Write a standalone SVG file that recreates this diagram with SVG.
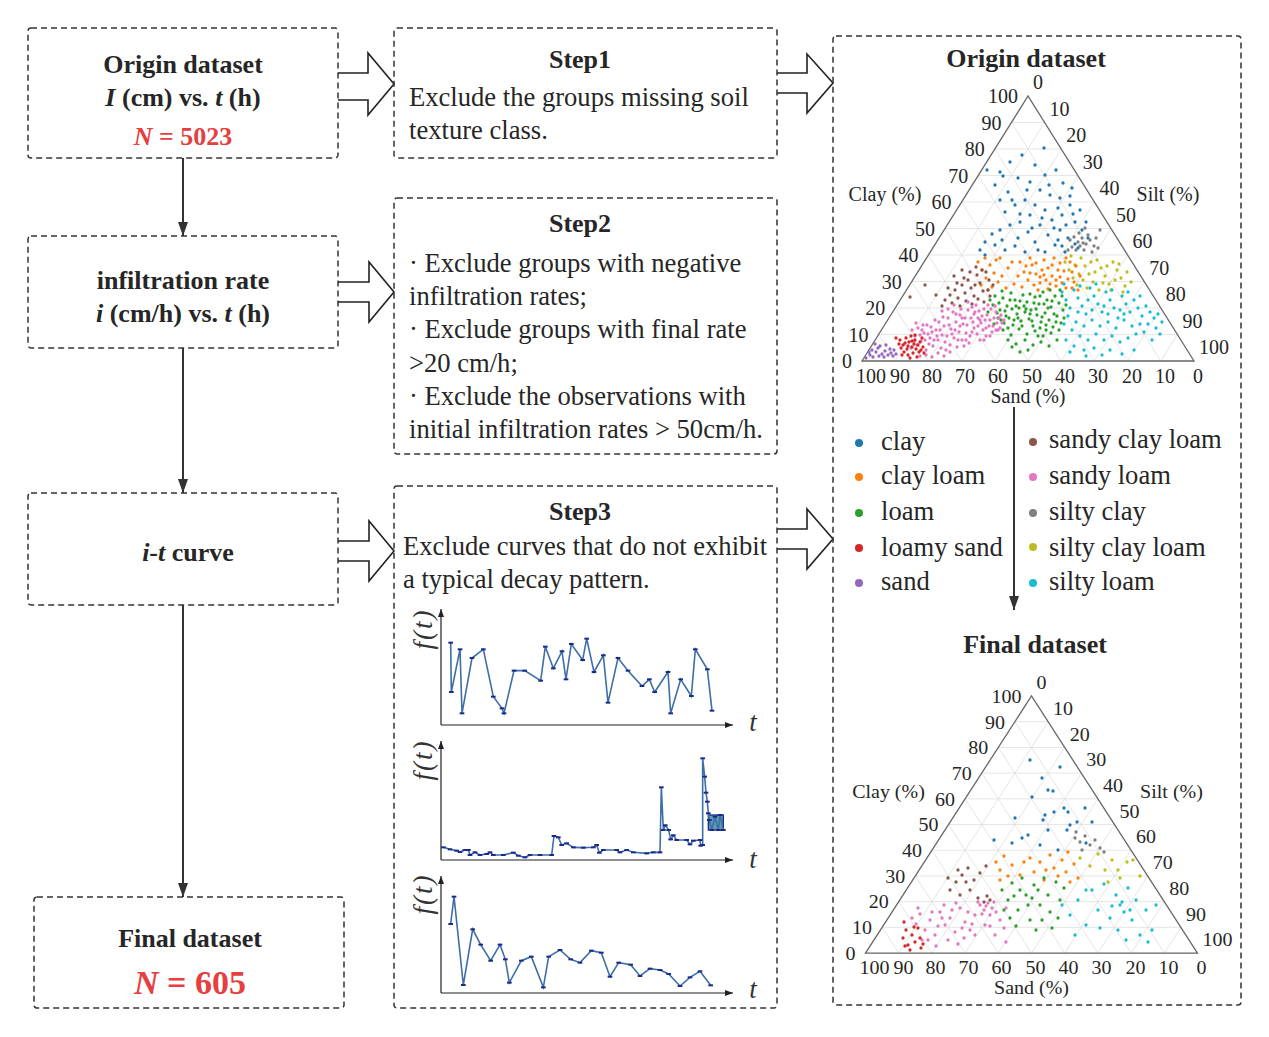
<svg xmlns="http://www.w3.org/2000/svg" width="1269" height="1037" viewBox="0 0 1269 1037">
<defs>
<style>
.box{fill:none;stroke:#333;stroke-width:1.5;stroke-dasharray:6 4}
.bt{font-family:"Liberation Serif",serif;font-weight:bold;font-size:26px;fill:#262626;text-anchor:middle}
.tx{font-family:"Liberation Serif",serif;font-size:26.6px;fill:#262626}
.it{font-style:italic}
.red{fill:#e5403f}
.blk{fill:#fff;stroke:#222;stroke-width:1.6;stroke-linejoin:miter}
.conn{stroke:#333;stroke-width:2;fill:none}
.ax{font-family:"Liberation Serif",serif;font-size:20px;fill:#262626}
.axe{font-family:"Liberation Serif",serif;font-size:20px;fill:#262626;text-anchor:end}
.axm{font-family:"Liberation Serif",serif;font-size:20px;fill:#262626;text-anchor:middle}
.grid{stroke:#dedede;stroke-width:0.8;fill:none}
.edge{stroke:#666;stroke-width:1.3;fill:none}
.d{fill:none;stroke-width:3.3;stroke-linecap:round}
.c1{stroke:#1f77b4}.c2{stroke:#ff7f0e}.c3{stroke:#2ca02c}.c4{stroke:#d62728}.c5{stroke:#9467bd}
.c6{stroke:#8c564b}.c7{stroke:#e377c2}.c8{stroke:#7f7f7f}.c9{stroke:#bcbd22}.c10{stroke:#17becf}
.cax{stroke:#222;stroke-width:1.2;fill:none}
.cl{fill:none;stroke:#3d6fa6;stroke-width:1.6;marker-start:url(#sq);marker-mid:url(#sq);marker-end:url(#sq)}
.ft{font-family:"Liberation Serif",serif;font-style:italic;font-size:27px;fill:#333;text-anchor:middle}
</style>
<marker id="arr" markerUnits="userSpaceOnUse" markerWidth="14" markerHeight="10" viewBox="0 0 14 10" refX="14" refY="5" orient="auto"><path d="M0 0L14 5L0 10z" fill="#333"/></marker>
<marker id="ah" markerUnits="userSpaceOnUse" markerWidth="8" markerHeight="6" viewBox="0 0 8 6" refX="8" refY="3" orient="auto"><path d="M0 0L8 3L0 6z" fill="#222"/></marker>
<marker id="sq" markerUnits="userSpaceOnUse" markerWidth="16" markerHeight="8" viewBox="0 0 16 8" refX="8" refY="4"><rect x="1" y="1" width="14" height="6" fill="#1c2a8c"/></marker>
</defs>
<rect width="1269" height="1037" fill="#fff"/>

<g id="connectors">
<line class="conn" x1="183" y1="158" x2="183" y2="236" marker-end="url(#arr)"/>
<line class="conn" x1="183" y1="348" x2="183" y2="493" marker-end="url(#arr)"/>
<line class="conn" x1="183" y1="605" x2="183" y2="897" marker-end="url(#arr)"/>
<line class="conn" x1="1014" y1="407" x2="1014" y2="610" marker-end="url(#arr)"/>
<path class="blk" d="M338 73H368V53L394 84L368 115V100H338"/>
<path class="blk" d="M338 282H369V262L394 292L369 322V302H338"/>
<path class="blk" d="M338 541H369V521L394 551L369 581V561H338"/>
<path class="blk" d="M777 73H807V54L833 83L807 113V93H777"/>
<path class="blk" d="M777 529H807V509L833 539L807 569V549H777"/>
</g>

<g id="n-origin">
<rect class="box" x="28" y="28" width="310" height="130" rx="3"/>
<text class="bt" x="183" y="73">Origin dataset</text>
<text class="bt" x="183" y="106"><tspan class="it">I</tspan> (cm) vs. <tspan class="it">t</tspan> (h)</text>
<text class="bt red" x="183" y="145"><tspan class="it">N</tspan> = 5023</text>
</g>

<g id="n-rate">
<rect class="box" x="28" y="236" width="310" height="112" rx="3"/>
<text class="bt" x="183" y="289">infiltration rate</text>
<text class="bt" x="183" y="322"><tspan class="it">i</tspan> (cm/h) vs. <tspan class="it">t</tspan> (h)</text>
</g>

<g id="n-curve">
<rect class="box" x="28" y="493" width="310" height="112" rx="3"/>
<text class="bt" x="188" y="561"><tspan class="it">i</tspan>-<tspan class="it">t</tspan> curve</text>
</g>

<g id="n-final">
<rect class="box" x="34" y="897" width="310" height="111" rx="3"/>
<text class="bt" x="190" y="947">Final dataset</text>
<text class="bt red" x="190" y="994" style="font-size:34px"><tspan class="it">N</tspan> = 605</text>
</g>

<g id="n-step1">
<rect class="box" x="394" y="28" width="383" height="130" rx="3"/>
<text class="bt" x="580" y="68">Step1</text>
<text class="tx" x="409" y="106">Exclude the groups missing soil</text>
<text class="tx" x="409" y="139">texture class.</text>
</g>

<g id="n-step2">
<rect class="box" x="394" y="198" width="383" height="256" rx="3"/>
<text class="bt" x="580" y="232">Step2</text>
<text class="tx" x="409" y="272">· Exclude groups with negative</text>
<text class="tx" x="409" y="305">infiltration rates;</text>
<text class="tx" x="409" y="338">· Exclude groups with final rate</text>
<text class="tx" x="409" y="372">&gt;20 cm/h;</text>
<text class="tx" x="409" y="405">· Exclude the observations with</text>
<text class="tx" x="409" y="438">initial infiltration rates &gt; 50cm/h.</text>
</g>

<g id="n-step3">
<rect class="box" x="394" y="486" width="383" height="522" rx="3"/>
<text class="bt" x="580" y="520">Step3</text>
<text class="tx" x="403" y="555">Exclude curves that do not exhibit</text>
<text class="tx" x="403" y="588">a typical decay pattern.</text>
<path class="cax" d="M441 725V609" marker-end="url(#ah)"/>
<path class="cax" d="M441 725H733" marker-end="url(#ah)"/>
<path class="cax" d="M441 860V741" marker-end="url(#ah)"/>
<path class="cax" d="M441 860H733" marker-end="url(#ah)"/>
<path class="cax" d="M441 993V876" marker-end="url(#ah)"/>
<path class="cax" d="M441 993H733" marker-end="url(#ah)"/>
<text class="ft" transform="translate(432,629) rotate(-90)" letter-spacing="2">f(t)</text>
<text class="ft" transform="translate(432,760) rotate(-90)" letter-spacing="2">f(t)</text>
<text class="ft" transform="translate(432,894) rotate(-90)" letter-spacing="2">f(t)</text>
<text class="ft" x="753" y="731">t</text>
<text class="ft" x="753" y="868">t</text>
<text class="ft" x="753" y="998">t</text>
<g transform="translate(390,600) scale(0.333333)">
<polyline class="cl" vector-effect="non-scaling-stroke" points="182,128 184,276 210,148 216,340 246,174 280,148 310,290 336,325 342,340 372,212 404,212 452,242 466,140 490,205 516,154 528,238 544,132 578,180 590,116 612,216 640,166 654,308 684,174 714,212 756,258 778,238 794,276 834,216 842,340 872,238 904,288 916,148 952,208 966,332"/>
<rect x="955" y="645" width="45" height="45" fill="#5d9bb0" stroke="#1c2a8c" stroke-width="4"/>
<polyline class="cl" vector-effect="non-scaling-stroke" points="160,742 180,748 200,752 210,756 225,750 235,750 240,765 255,757 270,765 290,762 300,757 310,765 340,765 370,758 385,767 405,772 420,765 450,765 485,765 492,708 505,712 515,735 530,730 550,742 580,743 610,742 620,735 628,758 640,750 680,750 690,757 710,750 730,757 770,760 790,757 810,757 814,562 820,690 826,676 836,690 842,718 850,706 860,720 890,720 900,733 910,722 930,720 932,737 938,735 938,475 944,530 948,578 952,605 955,640 958,660 965,690 975,650 985,690 990,645 1000,690"/>
<polyline class="cl" vector-effect="non-scaling-stroke" points="182,972 192,890 220,1155 248,988 272,1034 302,1082 330,1034 346,1078 358,1148 394,1082 424,1070 460,1162 476,1070 510,1050 542,1078 570,1088 604,1052 634,1058 660,1130 686,1088 722,1094 750,1128 780,1106 810,1110 836,1122 870,1158 900,1132 930,1114 962,1156"/>
</g>
</g>

<g id="n-ternary">
<rect class="box" x="833" y="36" width="408" height="969" rx="3"/>
<text class="bt" x="1026" y="67">Origin dataset</text>
<g id="tern-origin">
<path class="grid" d="M878.6 334.5H1177.4M895.2 308H1160.8M911.8 281.5H1144.2M928.4 255H1127.6M945 228.5H1111M961.6 202H1094.4M978.2 175.5H1077.8M994.8 149H1061.2M1011.4 122.5H1044.6M895.2 361L878.6 334.5M928.4 361L895.2 308M961.6 361L911.8 281.5M994.8 361L928.4 255M1028 361L945 228.5M1061.2 361L961.6 202M1094.4 361L978.2 175.5M1127.6 361L994.8 149M1160.8 361L1011.4 122.5M895.2 361L1044.6 122.5M928.4 361L1061.2 149M961.6 361L1077.8 175.5M994.8 361L1094.4 202M1028 361L1111 228.5M1061.2 361L1127.6 255M1094.4 361L1144.2 281.5M1127.6 361L1160.8 308M1160.8 361L1177.4 334.5"/>
<path class="edge" d="M862 361L1028 96L1194 361Z"/>
<text class="axe" x="852" y="368">0</text><text class="axe" x="868.6" y="341.5">10</text><text class="axe" x="885.2" y="315">20</text><text class="axe" x="901.8" y="288.5">30</text><text class="axe" x="918.4" y="262">40</text><text class="axe" x="935" y="235.5">50</text><text class="axe" x="951.6" y="209">60</text><text class="axe" x="968.2" y="182.5">70</text><text class="axe" x="984.8" y="156">80</text><text class="axe" x="1001.4" y="129.5">90</text><text class="axe" x="1018" y="103">100</text>
<text class="ax" x="1033" y="89">0</text><text class="ax" x="1049.6" y="115.5">10</text><text class="ax" x="1066.2" y="142">20</text><text class="ax" x="1082.8" y="168.5">30</text><text class="ax" x="1099.4" y="195">40</text><text class="ax" x="1116" y="221.5">50</text><text class="ax" x="1132.6" y="248">60</text><text class="ax" x="1149.2" y="274.5">70</text><text class="ax" x="1165.8" y="301">80</text><text class="ax" x="1182.4" y="327.5">90</text><text class="ax" x="1199" y="354">100</text>
<text class="axm" x="871" y="383">100</text><text class="axm" x="900" y="383">90</text><text class="axm" x="932" y="383">80</text><text class="axm" x="965" y="383">70</text><text class="axm" x="998" y="383">60</text><text class="axm" x="1032" y="383">50</text><text class="axm" x="1065" y="383">40</text><text class="axm" x="1098" y="383">30</text><text class="axm" x="1132" y="383">20</text><text class="axm" x="1165" y="383">10</text><text class="axm" x="1198" y="383">0</text>
<text class="axm" x="885" y="201">Clay (%)</text>
<text class="axm" x="1168" y="201">Silt (%)</text>
<text class="axm" x="1028" y="403">Sand (%)</text>
<path class="d c1" d="M1044 148h0M1022 155h0M1010 162h0M1035 165h0M1000 172h0M987 170h0M1003 176h0M1018 178h0M1045 175h0M1056 170h0M1030 182h0M1063 183h0M1072 188h0M1040 190h0M1008 192h0M995 185h0M1050 195h0M1060 198h0M1025 200h0M1015 205h0M1035 205h0M1070 205h0M1080 210h0M1045 210h0M1005 212h0M1062 215h0M1030 215h0M1020 222h0M1052 220h0M1075 222h0M1040 225h0M1010 225h0M1000 230h0M1060 230h0M1082 230h0M1028 232h0M1048 235h0M1068 238h0M1018 238h0M985 242h0M995 245h0M1055 245h0M1075 244h0M1035 242h0M1005 250h0M1025 252h0M1045 252h0M1065 252h0M985 255h0M1015 246h0M1038 250h0M1058 240h0M1078 248h0M992 234h0M1012 200h0M1058 208h0M1070 196h0M1027 190h0M1049 185h0M1066 225h0M1032 228h0M1002 240h0M1088 238h0M980 250h0M1020 214h0M1042 218h0M1054 228h0M1073 214h0M1086 222h0M1062 246h0M1000 200h0"/>
<path class="d c8" d="M1070 240h0M1074 237h0M1078 242h0M1082 238h0M1086 244h0M1090 240h0M1094 246h0M1072 247h0M1076 250h0M1080 246h0M1084 250h0M1088 235h0M1092 252h0M1079 233h0M1096 238h0M1100 230h0M1068 250h0M1085 228h0M1098 248h0M1083 243h0"/>
<path class="d c9" d="M1065 262h0M1069 270h0M1073 278h0M1077 285h0M1081 258h0M1085 266h0M1089 274h0M1093 282h0M1097 260h0M1101 268h0M1105 276h0M1109 284h0M1113 262h0M1117 270h0M1121 278h0M1125 286h0M1087 288h0M1099 290h0M1111 290h0M1075 265h0M1091 262h0M1103 283h0M1115 280h0M1119 264h0M1083 280h0M1095 272h0M1107 266h0M1071 256h0M1127 272h0M1131 282h0M1079 274h0M1123 292h0"/>
<path class="d c2" d="M978 262h0M982 270h0M986 278h0M990 265h0M994 273h0M998 282h0M981 285h0M985 258h0M992 287h0M996 260h0M1002 276h0M1008 268h0M1014 284h0M1020 262h0M1024 272h0M1028 280h0M1032 265h0M1036 274h0M1040 283h0M1044 260h0M1048 268h0M1052 276h0M1056 286h0M1060 263h0M1064 271h0M1068 279h0M1072 288h0M1076 266h0M1080 276h0M1022 287h0M1030 258h0M1038 290h0M1046 280h0M1054 258h0M1062 283h0M1070 262h0M1074 282h0M1026 266h0M1034 285h0M1042 270h0M1050 284h0M1058 270h0M1066 288h0M1018 276h0M1012 262h0M1006 288h0M1000 258h0M988 290h0M1078 290h0M1044 275h0M1052 265h0M1060 277h0M1036 263h0M1030 273h0M1040 277h0M1056 280h0M1048 289h0M1066 258h0M1072 272h0"/>
<path class="d c6" d="M945 300h0M950 295h0M955 290h0M958 298h0M962 285h0M965 293h0M968 280h0M971 288h0M974 296h0M977 275h0M980 283h0M983 291h0M986 272h0M989 280h0M952 303h0M960 306h0M966 301h0M972 304h0M978 299h0M984 302h0M988 290h0M975 285h0M970 272h0M964 278h0M957 283h0M948 288h0M990 296h0M982 270h0M976 267h0M962 270h0M954 276h0M942 306h0M993 285h0M910 297h0M925 285h0M936 295h0"/>
<path class="d c10" d="M1062 292h0M1066 300h0M1070 308h0M1074 290h0M1078 298h0M1082 306h0M1086 314h0M1090 288h0M1094 296h0M1098 304h0M1102 312h0M1106 292h0M1110 300h0M1114 308h0M1118 318h0M1122 296h0M1126 304h0M1130 312h0M1134 300h0M1138 308h0M1142 316h0M1146 306h0M1150 312h0M1154 318h0M1158 314h0M1068 316h0M1076 322h0M1084 326h0M1092 320h0M1100 326h0M1108 322h0M1116 328h0M1124 320h0M1132 326h0M1140 324h0M1072 330h0M1080 336h0M1088 340h0M1096 334h0M1104 340h0M1112 336h0M1120 342h0M1128 338h0M1136 334h0M1144 332h0M1152 340h0M1160 334h0M1066 340h0M1074 346h0M1084 350h0M1094 348h0M1102 355h0M1110 350h0M1122 354h0M1134 350h0M1064 284h0M1080 286h0M1096 284h0M1112 290h0M1128 292h0M1088 300h0M1104 306h0M1120 310h0M1064 324h0M1078 312h0M1092 310h0M1108 314h0M1124 314h0M1140 296h0M1086 356h0M1070 352h0M1148 324h0M1156 328h0M1162 322h0"/>
<path class="d c3" d="M995 296h0M999 303h0M1003 298h0M1007 306h0M1011 293h0M1015 300h0M1019 308h0M1023 295h0M1027 302h0M1031 310h0M1035 297h0M1039 304h0M1043 292h0M1047 300h0M1051 307h0M1055 296h0M1059 303h0M1063 310h0M997 313h0M1001 320h0M1005 311h0M1009 318h0M1013 325h0M1017 314h0M1021 321h0M1025 312h0M1029 319h0M1033 326h0M1037 315h0M1041 322h0M1045 313h0M1049 320h0M1053 327h0M1057 316h0M1061 323h0M993 305h0M1000 310h0M1006 316h0M1012 309h0M1018 318h0M1024 306h0M1030 314h0M1036 309h0M1042 317h0M1048 308h0M1054 314h0M1060 290h0M1050 290h0M1040 296h0M1030 294h0M1020 301h0M1010 300h0M1002 291h0M994 324h0M1003 330h0M1011 335h0M1019 329h0M1027 334h0M1035 331h0M1043 336h0M1051 333h0M1059 330h0M1008 340h0M1016 344h0M1025 340h0M1033 345h0M1041 342h0M1049 346h0M1057 340h0M1004 323h0M1014 320h0M1022 326h0M1032 321h0M1040 328h0M1046 325h0M1056 322h0M1016 306h0M1026 309h0M1034 303h0M1044 304h0M1052 301h0M998 318h0M1008 328h0M1038 336h0M1046 330h0M1064 318h0M1066 305h0M1028 350h0M1020 352h0M1012 347h0M1062 296h0M990 300h0M988 312h0"/>
<path class="d c7" d="M912 330h0M915 336h0M918 328h0M921 341h0M924 333h0M927 325h0M930 338h0M933 346h0M936 330h0M939 322h0M942 335h0M945 342h0M948 318h0M951 329h0M954 338h0M957 347h0M960 315h0M963 324h0M966 333h0M969 343h0M972 307h0M975 312h0M978 318h0M981 323h0M984 309h0M987 315h0M990 320h0M993 326h0M996 312h0M999 318h0M1002 323h0M974 328h0M977 334h0M980 340h0M983 330h0M986 336h0M989 326h0M992 332h0M995 306h0M998 330h0M971 318h0M968 310h0M965 318h0M962 340h0M959 332h0M956 322h0M953 312h0M950 345h0M947 336h0M944 326h0M941 348h0M938 340h0M935 320h0M932 332h0M929 344h0M926 350h0M923 325h0M920 335h0M917 345h0M914 341h0M911 348h0M925 340h0M931 327h0M937 336h0M943 317h0M949 325h0M955 330h0M961 309h0M967 325h0M973 322h0M979 311h0M985 320h0M991 309h0M997 323h0M1001 315h0M976 305h0M982 316h0M988 305h0M994 318h0M970 336h0M964 346h0M958 340h0M952 334h0M946 350h0M940 330h0M934 340h0M928 334h0M922 330h0M916 323h0M942 311h0M948 309h0M954 305h0M960 326h0M966 340h0M972 332h0M978 326h0M984 340h0M990 336h0M996 330h0M1000 328h0M1004 320h0M986 328h0M980 320h0M974 314h0M968 302h0M962 318h0M956 314h0M950 352h0M944 356h0M938 353h0M932 357h0M926 355h0M920 356h0"/>
<path class="d c4" d="M900 340h0M903 345h0M906 338h0M909 342h0M912 347h0M915 340h0M918 345h0M921 350h0M904 352h0M908 355h0M913 353h0M917 357h0M920 342h0M923 347h0M901 348h0M911 336h0M907 349h0M914 344h0M919 352h0M905 343h0M910 358h0M916 349h0M922 338h0M902 355h0M912 341h0M924 353h0M899 344h0M908 346h0M896 338h0M915 335h0"/>
<path class="d c5" d="M866 358h0M870 355h0M873 357h0M876 352h0M879 356h0M872 350h0M882 354h0M885 351h0M888 355h0M891 353h0M894 350h0M878 348h0M869 352h0M884 357h0M890 349h0M896 354h0M875 344h0M880 346h0M886 345h0M893 356h0"/>
</g>

<g id="legend">
<circle cx="859" cy="443" r="4" fill="#1f77b4"/><text class="tx" x="881" y="450">clay</text>
<circle cx="859" cy="477" r="4" fill="#ff7f0e"/><text class="tx" x="881" y="484">clay loam</text>
<circle cx="859" cy="513" r="4" fill="#2ca02c"/><text class="tx" x="881" y="520">loam</text>
<circle cx="859" cy="548" r="4" fill="#d62728"/><text class="tx" x="881" y="556">loamy sand</text>
<circle cx="859" cy="583" r="4" fill="#9467bd"/><text class="tx" x="881" y="590">sand</text>
<circle cx="1033" cy="442" r="4" fill="#8c564b"/><text class="tx" x="1049" y="448">sandy clay loam</text>
<circle cx="1033" cy="477" r="4" fill="#e377c2"/><text class="tx" x="1049" y="484">sandy loam</text>
<circle cx="1033" cy="513" r="4" fill="#7f7f7f"/><text class="tx" x="1049" y="520">silty clay</text>
<circle cx="1033" cy="547" r="4" fill="#bcbd22"/><text class="tx" x="1049" y="556">silty clay loam</text>
<circle cx="1033" cy="583" r="4" fill="#17becf"/><text class="tx" x="1049" y="590">silty loam</text>
</g>

<text class="bt" x="1035" y="653">Final dataset</text>
<g id="tern-final">
<g transform="translate(3.5,602.9) scale(1,0.97)">
<path class="grid" d="M878.6 334.5H1177.4M895.2 308H1160.8M911.8 281.5H1144.2M928.4 255H1127.6M945 228.5H1111M961.6 202H1094.4M978.2 175.5H1077.8M994.8 149H1061.2M1011.4 122.5H1044.6M895.2 361L878.6 334.5M928.4 361L895.2 308M961.6 361L911.8 281.5M994.8 361L928.4 255M1028 361L945 228.5M1061.2 361L961.6 202M1094.4 361L978.2 175.5M1127.6 361L994.8 149M1160.8 361L1011.4 122.5M895.2 361L1044.6 122.5M928.4 361L1061.2 149M961.6 361L1077.8 175.5M994.8 361L1094.4 202M1028 361L1111 228.5M1061.2 361L1127.6 255M1094.4 361L1144.2 281.5M1127.6 361L1160.8 308M1160.8 361L1177.4 334.5"/>
<path class="edge" d="M862 361L1028 96L1194 361Z"/>
<text class="axe" x="852" y="368">0</text><text class="axe" x="868.6" y="341.5">10</text><text class="axe" x="885.2" y="315">20</text><text class="axe" x="901.8" y="288.5">30</text><text class="axe" x="918.4" y="262">40</text><text class="axe" x="935" y="235.5">50</text><text class="axe" x="951.6" y="209">60</text><text class="axe" x="968.2" y="182.5">70</text><text class="axe" x="984.8" y="156">80</text><text class="axe" x="1001.4" y="129.5">90</text><text class="axe" x="1018" y="103">100</text>
<text class="ax" x="1033" y="89">0</text><text class="ax" x="1049.6" y="115.5">10</text><text class="ax" x="1066.2" y="142">20</text><text class="ax" x="1082.8" y="168.5">30</text><text class="ax" x="1099.4" y="195">40</text><text class="ax" x="1116" y="221.5">50</text><text class="ax" x="1132.6" y="248">60</text><text class="ax" x="1149.2" y="274.5">70</text><text class="ax" x="1165.8" y="301">80</text><text class="ax" x="1182.4" y="327.5">90</text><text class="ax" x="1199" y="354">100</text>
<text class="axm" x="871" y="383">100</text><text class="axm" x="900" y="383">90</text><text class="axm" x="932" y="383">80</text><text class="axm" x="965" y="383">70</text><text class="axm" x="998" y="383">60</text><text class="axm" x="1032" y="383">50</text><text class="axm" x="1065" y="383">40</text><text class="axm" x="1098" y="383">30</text><text class="axm" x="1132" y="383">20</text><text class="axm" x="1165" y="383">10</text><text class="axm" x="1198" y="383">0</text>
<text class="axm" x="885" y="201">Clay (%)</text>
<text class="axm" x="1168" y="201">Silt (%)</text>
<text class="axm" x="1028" y="403">Sand (%)</text>
</g>
<path class="d c1" d="M1030 760h0M1060 767h0M1042 778h0M1048 790h0M1032 797h0M1053 791h0M1054 812h0M1085 808h0M1043 820h0M1015 818h0M1070 825h0M1048 830h0M1067 830h0M1077 822h0M1022 838h0M1040 845h0M1012 843h0M994 840h0M1058 850h0M1086 843h0M1092 822h0M1064 808h0M1068 812h0M1045 815h0M1028 835h0"/>
<path class="d c8" d="M1075 838h0M1080 842h0M1085 836h0M1090 845h0M1082 850h0M1095 840h0M1100 848h0M1076 832h0M1104 852h0"/>
<path class="d c9" d="M1080 858h0M1090 866h0M1098 854h0M1105 870h0M1112 860h0M1120 878h0M1127 862h0M1133 860h0M1140 876h0M1118 870h0M1108 882h0"/>
<path class="d c2" d="M996 862h0M1000 870h0M1004 856h0M1008 876h0M1012 865h0M1000 880h0M1030 858h0M1034 872h0M1040 862h0M1044 880h0M1050 855h0M1054 868h0M1058 876h0M1062 860h0M1066 872h0M1070 882h0M1074 864h0M1078 878h0M1046 870h0M1020 875h0M1024 862h0M1068 852h0"/>
<path class="d c6" d="M950 890h0M956 882h0M962 875h0M968 868h0M974 880h0M980 873h0M986 866h0M960 895h0M970 890h0M978 898h0M984 902h0M990 900h0M987 896h0M966 882h0M958 870h0M948 878h0"/>
<path class="d c10" d="M1062 905h0M1070 915h0M1078 900h0M1086 925h0M1092 890h0M1098 910h0M1104 884h0M1110 918h0M1116 895h0M1120 905h0M1124 912h0M1128 888h0M1132 920h0M1136 900h0M1140 935h0M1146 910h0M1152 930h0M1156 905h0M1100 928h0M1086 890h0M1118 930h0M1126 940h0M1148 942h0M1075 935h0M1112 906h0M1122 902h0M1130 910h0"/>
<path class="d c3" d="M1002 890h0M1008 900h0M1012 883h0M1018 910h0M1022 878h0M1026 895h0M1030 920h0M1034 885h0M1040 905h0M1044 878h0M1048 895h0M1052 928h0M1056 882h0M1060 900h0M1064 888h0M1010 918h0M1016 926h0M1036 930h0M1042 920h0M1028 905h0M1020 890h0M1050 912h0M1058 918h0M1004 910h0M1038 890h0M1014 896h0M1032 898h0"/>
<path class="d c7" d="M912 918h0M916 924h0M920 914h0M925 930h0M930 920h0M935 935h0M940 912h0M945 925h0M950 918h0M955 932h0M960 908h0M965 922h0M970 930h0M975 915h0M980 905h0M984 910h0M988 903h0M992 908h0M978 902h0M986 906h0M982 914h0M990 915h0M994 902h0M996 912h0M1000 920h0M1004 928h0M964 938h0M958 944h0M948 940h0M938 926h0M928 940h0M944 905h0M952 910h0M968 912h0M972 924h0M962 928h0M942 918h0M932 912h0M922 940h0M975 935h0M985 925h0M995 935h0M1006 908h0M990 926h0M918 908h0M1006 942h0M956 903h0M936 946h0"/>
<path class="d c4" d="M904 922h0M906 930h0M903 938h0M908 945h0M912 935h0M915 942h0M918 928h0M921 948h0M910 950h0M905 946h0M914 927h0M920 938h0M923 944h0"/>
</g>
</g>
</svg>
